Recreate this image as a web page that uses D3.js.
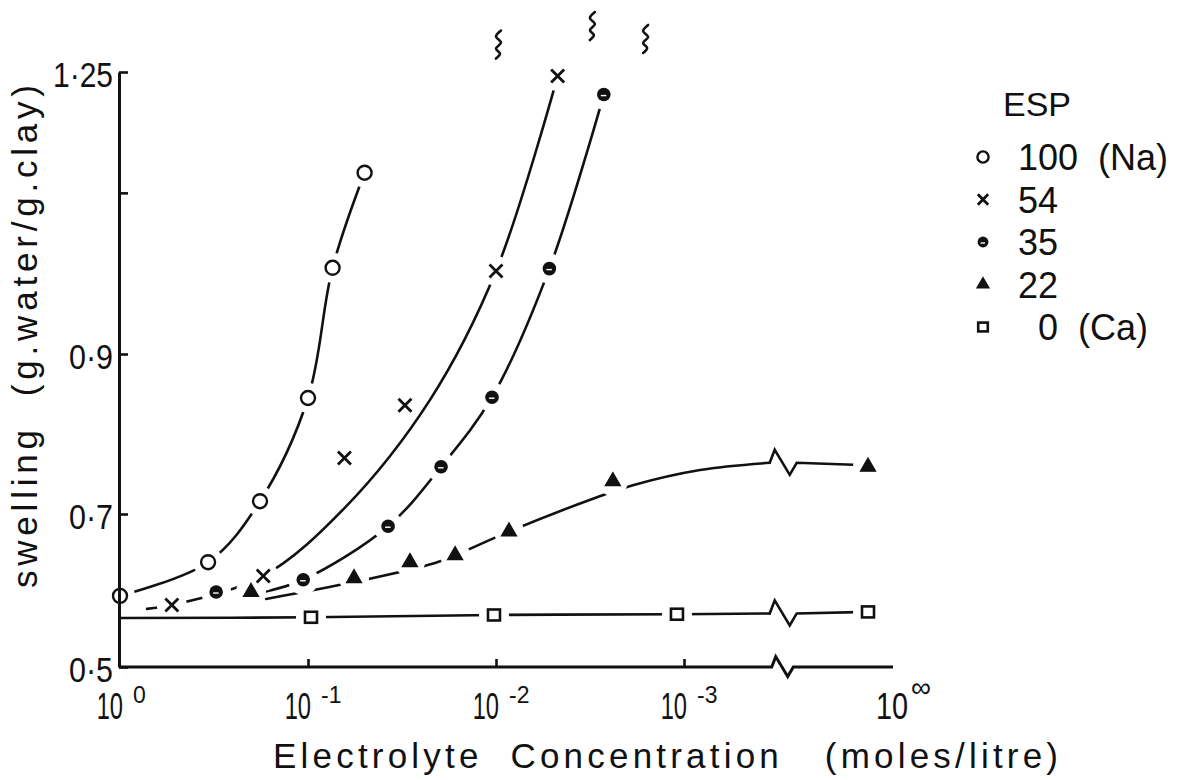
<!DOCTYPE html>
<html>
<head>
<meta charset="utf-8">
<title>swelling vs electrolyte concentration</title>
<style>
  body {margin: 0; background: #fff;}
  text {font-family: "Liberation Sans", Arial, sans-serif; fill: #111;}
</style>
</head>
<body>
<div id="chart"></div>
<script src="https://d3js.org/d3.v7.min.js"></script>
<script>
// ---- data (concentration in moles/litre, 0 = the 10^inf end of the axis) ----
var espLabels = ["100", "54", "35", "22", "0"];
var espNotes = ["(Na)", "", "", "", "(Ca)"];

var conc100 = [1, 0.34, 0.18, 0.1, 0.074, 0.05];
var swell100 = [0.593, 0.637, 0.716, 0.845, 1.007, 1.125];
var conc54 = [0.53, 0.173, 0.064, 0.0305, 0.01, 0.0047];
var swell54 = [0.581, 0.619, 0.770, 0.836, 1.003, 1.245];
var conc35 = [0.308, 0.106, 0.0375, 0.0196, 0.0105, 0.0052, 0.00267];
var swell35 = [0.598, 0.614, 0.684, 0.759, 0.846, 1.006, 1.222];
var conc22 = [0.201, 0.0569, 0.0287, 0.0165, 0.00853, 0.00239, 0];
var swell22 = [0.598, 0.616, 0.637, 0.646, 0.677, 0.741, 0.759];
var conc0 = [0.0964, 0.01025, 0.00109, 0];
var swell0 = [0.565, 0.568, 0.569, 0.572];

// the hand drawn curves (not always through every point)
var fitConc100 = [1, 0.34, 0.18, 0.1, 0.074, 0.05];
var fitSwell100 = [0.593, 0.637, 0.716, 0.845, 1.007, 1.125];
var fitConc54 = [0.718, 0.53, 0.173, 0.0636, 0.0224, 0.01, 0.0047];
var fitSwell54 = [0.576, 0.581, 0.619, 0.708, 0.843, 1.003, 1.245];
var fitConc35 = [0.18, 0.106, 0.0375, 0.0196, 0.0105, 0.0052, 0.00267];
var fitSwell35 = [0.597, 0.614, 0.684, 0.759, 0.846, 1.006, 1.222];
var fitConc22 = [0.167, 0.0569, 0.0211, 0.0165, 0.00853, 0.0029, 0.00187, 0.000822, 0.00035, 0];
var fitSwell22 = [0.589, 0.611, 0.636, 0.646, 0.677, 0.721, 0.736, 0.755, 0.764, 0.761];
var fitConc0 = [1, 0.0964, 0.01025, 0.00109, 0.00035, 0];
var fitSwell0 = [0.564, 0.565, 0.568, 0.569, 0.570, 0.572];

var breakConc = 0.00035;   // where the axis and the curves are broken

var xTicks = [1, 0.1, 0.01, 0.001, 0];
var xTickExp = ["0", "-1", "-2", "-3", "\u221e"];
var yTicks = [0.5, 0.7, 0.9, 1.1, 1.25];
var yTickLabels = ["0\u00b75", "0\u00b77", "0\u00b79", "", "1\u00b725"];

// wavy marks above the plot
var squiggleConc = [0.00976, 0.00309, 0.00161];
var squiggleSwell = [1.284, 1.307, 1.291];

// ---- layout ----
var W = 1199, H = 780, ink = "#111";
var xAxisEnd = 893, xInf = 868;

var svg = d3.select("#chart").append("svg")
    .attr("width", W).attr("height", H);

var x = d3.scaleLog().domain([1, 1e-3]).range([120, 684]);
// the printed axis is not quite even, so a polylinear scale
var y = d3.scaleLinear().domain([0.5, 0.7, 0.9, 1.25]).range([667, 514, 354, 72]);

function xPos(c) { return c === 0 ? xInf : x(c); }

var series = [
    {key: "100", shape: "circle", c: conc100, v: swell100, fc: fitConc100, fv: fitSwell100},
    {key: "54", shape: "cross", c: conc54, v: swell54, fc: fitConc54, fv: fitSwell54},
    {key: "35", shape: "dot", c: conc35, v: swell35, fc: fitConc35, fv: fitSwell35},
    {key: "22", shape: "triangle", c: conc22, v: swell22, fc: fitConc22, fv: fitSwell22},
    {key: "0", shape: "square", c: conc0, v: swell0, fc: fitConc0, fv: fitSwell0}
];
series.forEach(function(s) {
    s.pts = s.c.map(function(c, i) { return [c, s.v[i]]; });
    s.fit = s.fc.map(function(c, i) { return [c, s.fv[i]]; });
});

// break mark (up, down, back)
function zig(p, x0, y0, k) {
    p.lineTo(x0 + 5 * k, y0 - 13 * k);
    p.lineTo(x0 + 20 * k, y0 + 12 * k);
    p.lineTo(x0 + 27 * k, y0);
}

var line = d3.line()
    .x(function(d) { return xPos(d[0]); })
    .y(function(d) { return y(d[1]); })
    .curve(d3.curveCatmullRom.alpha(0.5));

function drawCurve(g, s) {
    var finite = s.fit.filter(function(d) { return d[0] > 0; });
    g.append("path").attr("d", line(finite));
    var inf = s.fit.filter(function(d) { return d[0] === 0; });
    if (inf.length) {
        var last = finite[finite.length - 1];
        var p = d3.path();
        var bx = xPos(last[0]), by = y(last[1]);
        p.moveTo(bx, by);
        zig(p, bx, by, 1);
        p.lineTo(xPos(0), y(inf[0][1]));
        g.append("path").attr("d", p.toString()).attr("stroke-linejoin", "miter");
    }
}

// white discs so a curve stops short of the symbols
function drawGaps(g, pts) {
    g.selectAll("circle").data(pts).join("circle")
        .attr("cx", function(d) { return xPos(d[0]); })
        .attr("cy", function(d) { return y(d[1]); })
        .attr("r", 15).attr("fill", "#fff");
}

var curves = svg.append("g").attr("fill", "none").attr("stroke", ink)
    .attr("stroke-width", 2.6).attr("stroke-linecap", "round");
series.slice(0, 4).forEach(function(s) { drawCurve(curves, s); });
drawGaps(svg.append("g"), [].concat(series[0].pts, series[1].pts, series[2].pts, series[3].pts));

var curves0 = svg.append("g").attr("fill", "none").attr("stroke", ink)
    .attr("stroke-width", 2.6).attr("stroke-linecap", "round");
drawCurve(curves0, series[4]);
drawGaps(svg.append("g"), series[4].pts);

// symbols
function drawMarker(g, shape, k) {
    if (shape === "circle") {
        g.append("circle").attr("r", 7 * k).attr("fill", "#fff")
            .attr("stroke", ink).attr("stroke-width", 2.4);
    } else if (shape === "cross") {
        var a = 6.5 * k;
        g.append("path").attr("d", "M" + (-a) + "," + (-a) + "L" + a + "," + a + "M" + (-a) + "," + a + "L" + a + "," + (-a))
            .attr("stroke", ink).attr("stroke-width", 2.8).attr("fill", "none");
    } else if (shape === "dot") {
        g.append("circle").attr("r", 6.8 * k).attr("fill", ink);
        g.append("path").attr("d", "M" + (-3 * k) + ",1H" + (2.5 * k))
            .attr("stroke", "#fff").attr("stroke-width", 1.4);
    } else if (shape === "triangle") {
        g.append("path").attr("d", d3.symbol().type(d3.symbolTriangle).size(100 * k * k)())
            .attr("fill", ink).attr("stroke", ink).attr("stroke-width", 1.2);
    } else {
        g.append("rect").attr("x", -6 * k).attr("y", -5.5 * k)
            .attr("width", 12 * k).attr("height", 11 * k)
            .attr("fill", "#fff").attr("stroke", ink).attr("stroke-width", 2.6);
    }
}

var marks = svg.append("g");
series.forEach(function(s) {
    marks.append("g").selectAll("g").data(s.pts).join("g")
        .attr("transform", function(d) { return "translate(" + xPos(d[0]) + "," + y(d[1]) + ")"; })
        .each(function() { drawMarker(d3.select(this), s.shape, 1); });
});

// ---- axes ----
var yAxis = d3.axisLeft(y).tickValues(yTicks).tickSizeInner(-9).tickSizeOuter(0)
    .tickPadding(6)
    .tickFormat(function(d, i) { return yTickLabels[i]; });
var gy = svg.append("g").attr("transform", "translate(119,0)").call(yAxis);
gy.select(".domain").attr("stroke", ink).attr("stroke-width", 3);
gy.selectAll(".tick line").attr("stroke", ink).attr("stroke-width", 2.6);
gy.selectAll(".tick text")
    .attr("font-size", 35).attr("dy", "0.4em").attr("fill", ink)
    .attr("font-family", "Liberation Sans, Arial, sans-serif")
    .attr("lengthAdjust", "spacingAndGlyphs")
    .attr("textLength", function(d, i) {
        var t = yTickLabels[i];
        return t ? (t.length - 1) * 16 + 12 : null;
    });

var xAxis = d3.axisBottom(x).tickValues([0.1, 0.01, 0.001]).tickSizeInner(-8)
    .tickSizeOuter(0).tickFormat("");
var gx = svg.append("g").attr("transform", "translate(0," + y(0.5) + ")").call(xAxis);
gx.select(".domain").remove();
gx.selectAll(".tick line").attr("stroke", ink).attr("stroke-width", 2.6);

// x axis line with its break
var bx = x(breakConc);
var ax = d3.path();
ax.moveTo(119, y(0.5));
ax.lineTo(bx + 2, y(0.5));
zig(ax, bx + 2, y(0.5), 0.8);
ax.lineTo(xAxisEnd, y(0.5));
svg.append("path").attr("d", ax.toString()).attr("fill", "none")
    .attr("stroke", ink).attr("stroke-width", 3);

// x tick labels 10^n (the lettering is narrow, so the base is squeezed)
var xl = svg.append("g");
xTicks.forEach(function(t, i) {
    var px = t === 0 ? xAxisEnd + 15 : x(t) + 3;
    var sx = t === 0 ? 0.78 : 0.64;
    xl.append("g").attr("transform", "translate(" + px + ",719) scale(" + sx + ",1)")
        .append("text").attr("text-anchor", "end").attr("font-size", 37).text("10");
    xl.append("text").attr("x", px + (t === 0 ? 3 : 10)).attr("y", t === 0 ? 697 : 703)
        .attr("font-size", t === 0 ? 28 : 23).text(xTickExp[i]);
});

// axis titles
svg.append("text").attr("x", 273).attr("y", 768).attr("font-size", 35)
    .attr("textLength", 785).attr("lengthAdjust", "spacing")
    .style("white-space", "pre")
    .text("Electrolyte  Concentration   (moles/litre)");

svg.append("text").attr("transform", "translate(37,588) rotate(-90)")
    .attr("font-size", 35).attr("textLength", 503).attr("lengthAdjust", "spacing")
    .style("white-space", "pre")
    .text("swelling  (g.water/g.clay)");

// legend
var lg = svg.append("g");
lg.append("text").attr("x", 1003).attr("y", 116).attr("font-size", 34).text("ESP");
series.forEach(function(s, i) {
    var cy = 157 + i * 42.5;
    var g = lg.append("g").attr("transform", "translate(983," + cy + ")");
    drawMarker(g, s.shape, 0.8);
    var label = (espLabels[i].length < 2 ? "  " : "") + espLabels[i] + (espNotes[i] ? "  " + espNotes[i] : "");
    lg.append("text").attr("x", 1018).attr("y", cy + 13).attr("font-size", 36)
        .style("white-space", "pre").text(label);
});

// wavy marks at the top
var wave = d3.line().curve(d3.curveCatmullRom);
squiggleConc.forEach(function(c, i) {
    var cx = x(c), cy = y(squiggleSwell[i]);
    var pts = [[cx + 3, cy - 14], [cx - 2, cy - 8], [cx + 3, cy - 2], [cx - 2, cy + 4], [cx + 2, cy + 9], [cx - 2, cy + 14]];
    svg.append("path").attr("d", wave(pts)).attr("fill", "none")
        .attr("stroke", ink).attr("stroke-width", 2.6).attr("stroke-linecap", "round");
});
</script>
</body>
</html>
